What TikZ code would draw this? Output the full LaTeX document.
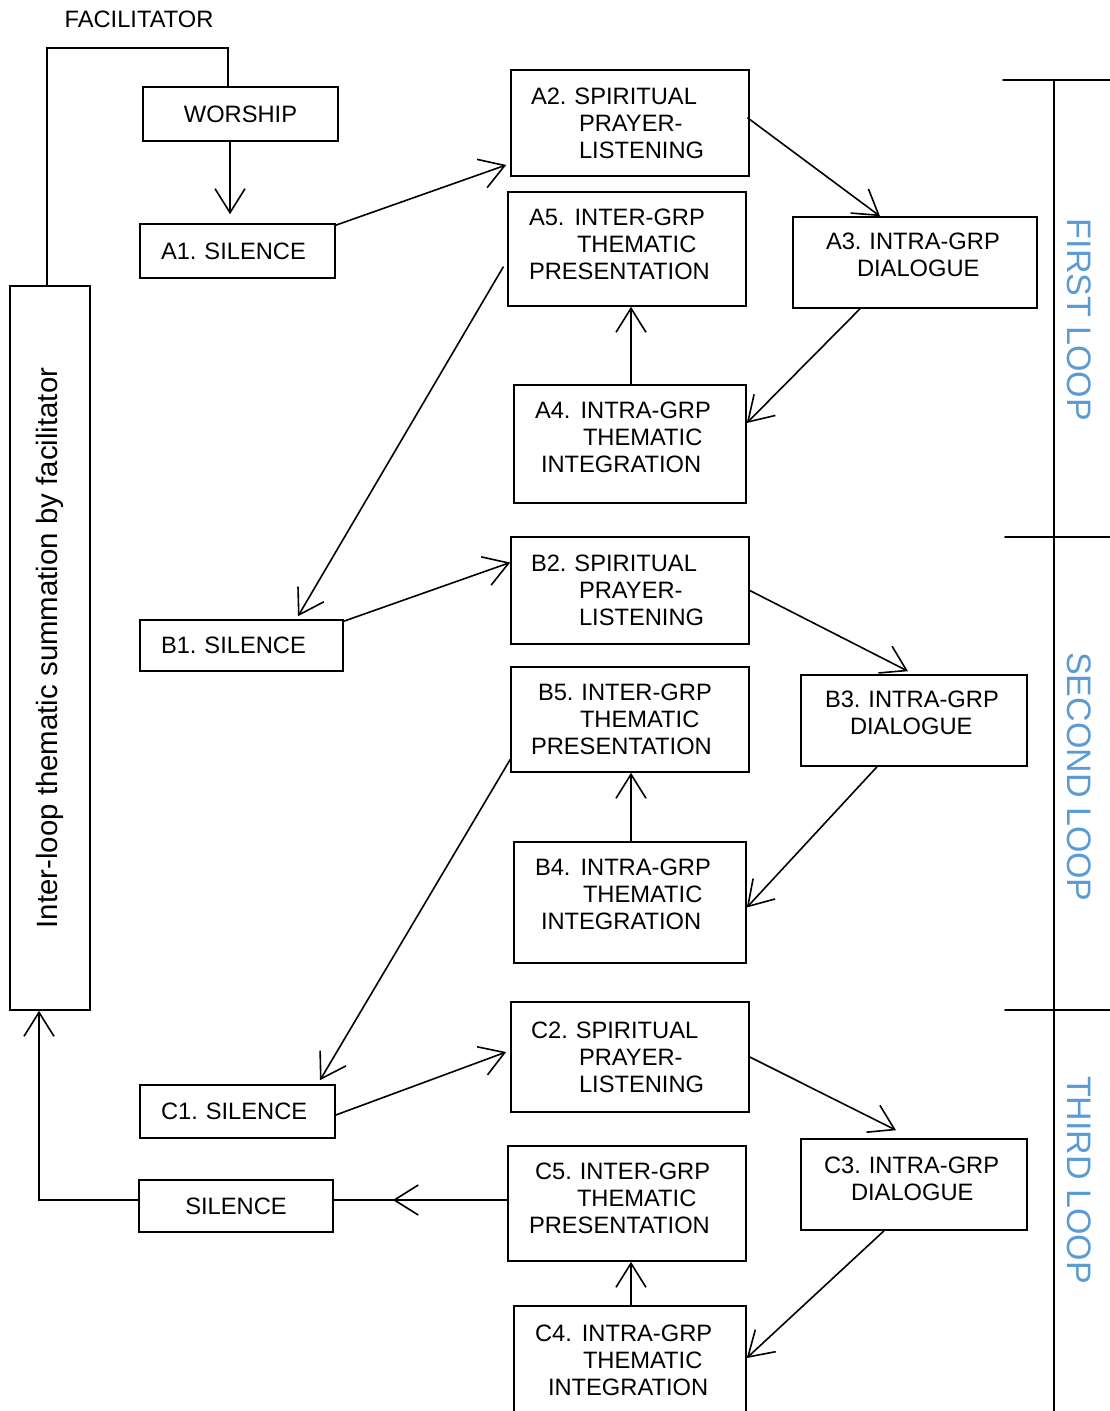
\documentclass[tikz,border=0pt]{standalone}
\usepackage{fontspec}
\setmainfont{Liberation Sans}
\usepackage{graphicx}
\usepackage{xcolor}
\definecolor{LoopBlue}{RGB}{91,155,213}
\usepackage{tikz}
\usetikzlibrary{arrows.meta}
\usetikzlibrary{decorations.markings}
\newcommand{\BoxFont}{\fontsize{23.7}{27}\selectfont\frenchspacing}
\newcommand{\Pad}[1]{\rule[-#1]{0pt}{0pt}}
\tikzstyle{Box}=[draw,line width=1.6pt,inner sep=0pt,align=left,
font=\BoxFont]
\tikzstyle{Edge}=[draw,line width=1.6pt,line cap=round]
\tikzstyle{Arrow}=[Edge,->]
\tikzstyle{LoopLabel}=[text=LoopBlue,rotate=-90,
font=\fontsize{34}{40}\selectfont]

\begin{document}
\begin{tikzpicture}[x=1pt,y=-1pt,
        >={Straight Barb[length=24pt,width=30pt]}]
            \useasboundingbox(0,0)rectangle(1110,1411);
            \clip(0,0)rectangle(1110,1411);
            \node[font=\BoxFont](fac)at(139,19){FACILITATOR};
            \node[Box,minimum width=195pt,minimum height=54pt](W)
                at(240.5,114){WORSHIP};
            \node[Box,minimum width=80pt,minimum height=724pt,
                font=\fontsize{29.4}{34}\selectfont](Summ)at(50,648)
                {\rotatebox{90}{Inter-loop thematic summation by facilitator}};
            \node[Box,minimum width=195pt,minimum height=54pt,
                text width=153pt](A1)at(237.5,251){A1. SILENCE};
            \node[Box,minimum width=238pt,minimum height=106pt,
                text width=198pt](A2)at(630,123)
                {A2. SPIRITUAL\\\hspace*{48pt}PRAYER-\\\hspace*{48pt}LISTENING};
            \node[Box,minimum width=244pt,minimum height=91pt,
                text width=178pt](A3)at(915,262.5)
                {A3. INTRA-GRP\\\hspace*{31pt}DIALOGUE\Pad{16pt}};
            \node[Box,minimum width=232pt,minimum height=118pt,
                text width=190pt](A4)at(630,444)
                {A4.\hspace{10pt}INTRA-GRP\\\hspace*{48pt}THEMATIC\\\hspace*{6pt}INTEGRATION\Pad{14pt}};
            \node[Box,minimum width=238pt,minimum height=114pt,
                text width=196pt](A5)at(627,249)
                {A5.\hspace{10pt}INTER-GRP\\\hspace*{48pt}THEMATIC\\PRESENTATION\Pad{10pt}};
            \node[Box,minimum width=203pt,minimum height=51pt,
                text width=161pt](B1)at(241.5,645.5){B1. SILENCE};
            \node[Box,minimum width=238pt,minimum height=107pt,
                text width=198pt](B2)at(630,590.5)
                {B2. SPIRITUAL\\\hspace*{48pt}PRAYER-\\\hspace*{48pt}LISTENING};
            \node[Box,minimum width=226pt,minimum height=91pt,
                text width=178pt](B3)at(914,720.5)
                {B3. INTRA-GRP\\\hspace*{25pt}DIALOGUE\Pad{16pt}};
            \node[Box,minimum width=232pt,minimum height=121pt,
                text width=190pt](B4)at(630,902.5)
                {B4.\hspace{10pt}INTRA-GRP\\\hspace*{48pt}THEMATIC\\\hspace*{6pt}INTEGRATION\Pad{16pt}};
            \node[Box,minimum width=238pt,minimum height=105pt,
                text width=198pt](B5)at(630,719.5)
                {\hspace*{7pt}B5. INTER-GRP\\\hspace*{49pt}THEMATIC\\PRESENTATION};
            \node[Box,minimum width=195pt,minimum height=53pt,
                text width=153pt](C1)at(237.5,1111.5){C1. SILENCE};
            \node[Box,minimum width=238pt,minimum height=110pt,
                text width=198pt](C2)at(630,1057)
                {C2. SPIRITUAL\\\hspace*{48pt}PRAYER-\\\hspace*{48pt}LISTENING};
            \node[Box,minimum width=226pt,minimum height=91pt,
                text width=180pt](C3)at(914,1184.5)
                {C3. INTRA-GRP\\\hspace*{27pt}DIALOGUE\Pad{12pt}};
            \node[Box,minimum width=232pt,minimum height=118pt,
                text width=190pt](C4)at(630,1365)
                {C4.\hspace{10pt}INTRA-GRP\\\hspace*{48pt}THEMATIC\\\hspace*{13pt}INTEGRATION\Pad{10pt}};
            \node[Box,minimum width=238pt,minimum height=115pt,
                text width=196pt](C5)at(627,1203.5)
                {\hspace*{6pt}C5. INTER-GRP\\\hspace*{48pt}THEMATIC\\PRESENTATION\Pad{10pt}};
            \node[Box,minimum width=194pt,minimum height=52pt](S)
                at(236,1206){SILENCE};
            \draw[Edge]([xshift=-3pt]Summ.north)
                |-([xshift=-12.5pt,yshift=38pt]W.north)--([xshift=-12.5pt]W.north);
            \draw[Arrow]([xshift=-10.5pt]W.south)--([xshift=-7.5pt,yshift=9pt]A1.north);
            \draw[Arrow]([yshift=-2pt]A1.north east)--([xshift=-4pt,yshift=-42pt]A2.west);
            \draw[Arrow]([xshift=-2pt,yshift=5pt]A2.east)--([xshift=-35pt]A3.north);
            \draw[Arrow]([xshift=-55pt]A3.south)--([yshift=21pt]A4.east);
            \draw[Arrow]([xshift=1pt]A4.north)--([xshift=1pt]A4.north|-A5.south);
            \draw[Arrow]([xshift=-4pt,yshift=-18pt]A5.west)
                --([xshift=56.5pt,yshift=3pt]B1.north);
            \draw[Arrow]([yshift=-2pt]B1.north east)--([yshift=28pt]B2.west);
            \draw[Arrow](B2.east)--([xshift=-6pt,yshift=3pt]B3.north);
            \draw[Arrow]([xshift=-37pt]B3.south)--([yshift=-5pt]B4.east);
            \draw[Arrow]([xshift=1pt]B4.north)--([xshift=1pt]B4.north|-B5.south);
            \draw[Arrow]([yshift=-40pt]B5.west)--([xshift=82.5pt,yshift=4pt]C1.north);
            \draw[Arrow]([yshift=-3.5pt]C1.east)--([xshift=-4pt,yshift=5pt]C2.west);
            \draw[Arrow](C2.east)--([xshift=-18pt,yshift=8pt]C3.north);
            \draw[Arrow]([xshift=-30pt]C3.south)--([yshift=7pt]C4.east);
            \draw[Arrow]([xshift=1pt]C4.north)--([xshift=1pt]C4.north|-C5.south);
            \draw[Edge,postaction={decorate},decoration={markings,
                mark=at position 0.66 with {\arrow{>}}}]
                ([yshift=3.5pt]C5.west)--([yshift=6pt]S.east);
            \draw[Arrow]([yshift=6pt]S.west)-|([xshift=-11pt]Summ.south);
            %
            \draw[Edge](1054,80)--(1054,1411);
            \draw[Edge](1003,80)--(1110,80);
            \draw[Edge](1005,537)--(1110,537);
            \draw[Edge](1005,1010)--(1110,1010);
            \node[LoopLabel](first)at(1079,320){FIRST LOOP};
            \node[LoopLabel](second)at(1079,777){SECOND LOOP};
            \node[LoopLabel](third)at(1079,1180){THIRD LOOP};
        \end{tikzpicture}
\end{document}
